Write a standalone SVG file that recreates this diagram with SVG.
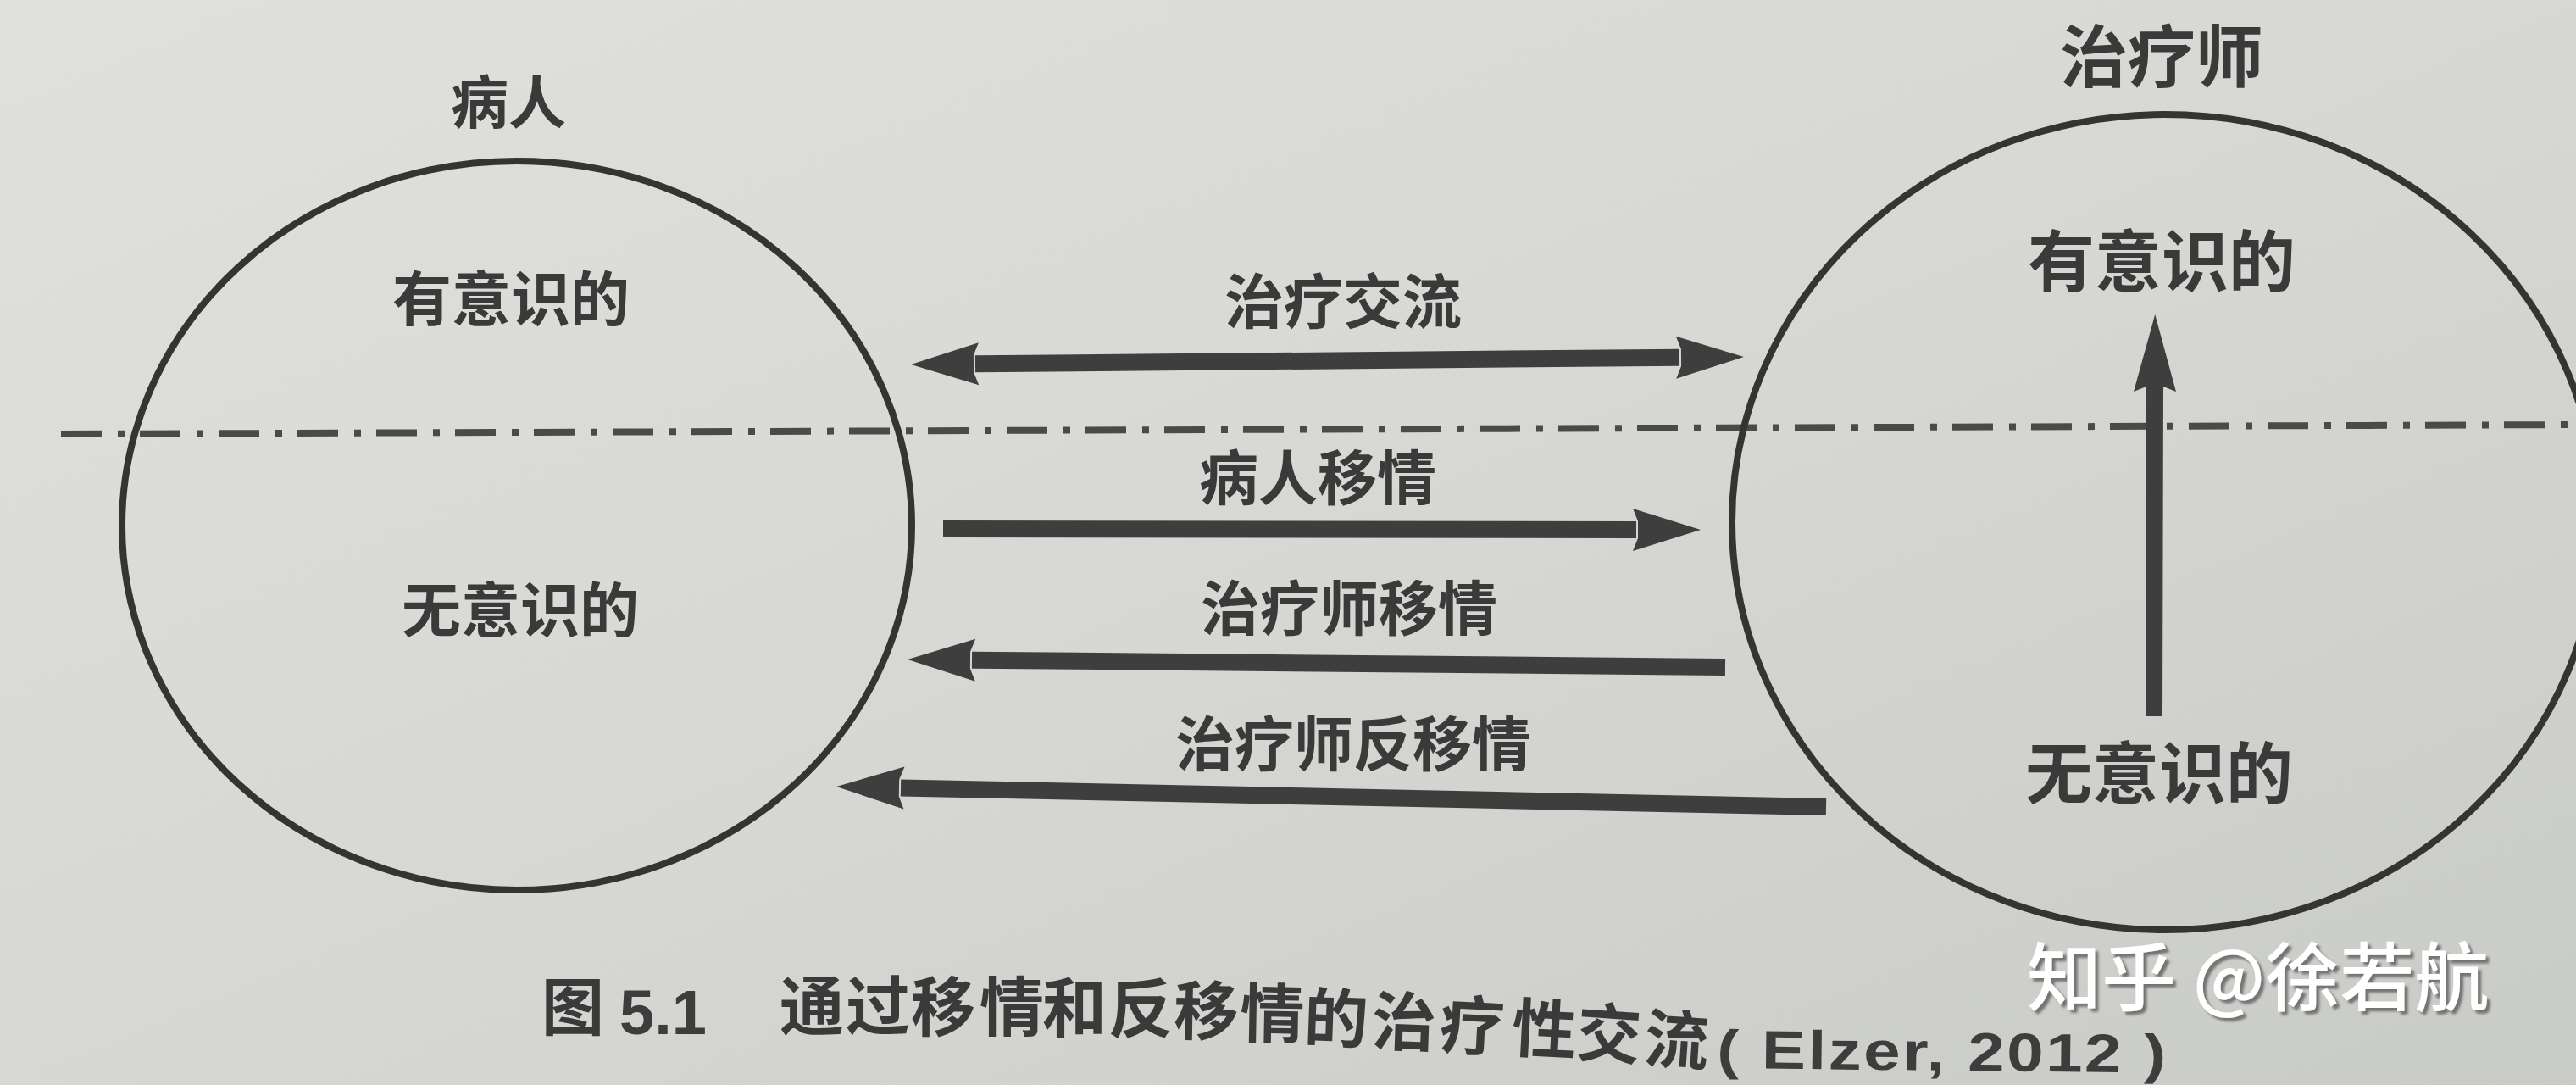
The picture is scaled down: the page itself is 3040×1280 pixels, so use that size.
<svg xmlns="http://www.w3.org/2000/svg" width="3040" height="1280" viewBox="0 0 3040 1280">
<style>
.t{font-family:"Noto Sans CJK SC","Noto Sans",sans-serif;font-weight:700;fill:#3a3a3a}
.l{font-family:"Liberation Sans",Arial,sans-serif;font-weight:700;fill:#3d3d3d}
.ell{fill:none;stroke:#343434;stroke-width:8}
.shaft{fill:none;stroke:#3e3e3e;stroke-width:20}
.dd{fill:none;stroke:#4a4a4a;stroke-width:8;stroke-dasharray:48 19 8 18}
.wm{font-family:"Noto Sans CJK SC",sans-serif;font-weight:500;fill:#fff}
</style>
<defs>
<linearGradient id="bg" x1="0" y1="0" x2="1" y2="1">
<stop offset="0" stop-color="#e0e1dd"/>
<stop offset="0.5" stop-color="#d7d8d4"/>
<stop offset="1" stop-color="#c9cbc7"/>
</linearGradient>
<marker id="head" markerUnits="userSpaceOnUse" markerWidth="92" markerHeight="54" viewBox="0 0 92 54" refX="13" refY="27" orient="auto-start-reverse">
<path d="M89,27 L9,2 L15,17 L15,37 L9,52 Z" fill="#3e3e3e"/>
</marker>
<marker id="headLong" markerUnits="userSpaceOnUse" markerWidth="102" markerHeight="54" viewBox="0 0 102 54" refX="15" refY="27" orient="auto">
<path d="M100,27 L9,2 L15,17 L15,37 L9,52 Z" fill="#3e3e3e"/>
</marker>
<filter id="sh" x="-5%" y="-20%" width="110%" height="140%">
<feDropShadow dx="4" dy="4" stdDeviation="1.5" flood-color="#6a6a6a" flood-opacity="0.9"/>
</filter>
</defs>
<rect width="3040" height="1280" fill="url(#bg)"/>

<g id="divider">
<line class="dd" x1="72" y1="512" x2="3040" y2="501"/>
</g>

<g id="patient">
<text class="t" x="600" y="146" font-size="68" text-anchor="middle">病人</text>
<ellipse class="ell" cx="610" cy="620" rx="466" ry="430"/>
<text class="t" x="603" y="379" font-size="70" text-anchor="middle">有意识的</text>
<text class="t" x="614" y="746" font-size="70" text-anchor="middle">无意识的</text>
</g>

<g id="therapist">
<text class="t" x="2551" y="96" font-size="80" text-anchor="middle">治疗师</text>
<ellipse class="ell" cx="2555" cy="616" rx="511" ry="481"/>
<text class="t" x="2551" y="338" font-size="79" text-anchor="middle">有意识的</text>
<text class="t" x="2548" y="942" font-size="79" text-anchor="middle">无意识的</text>
</g>

<g id="connectors">
<line class="shaft" x1="1151" y1="429.3" x2="1982" y2="421.7" marker-start="url(#head)" marker-end="url(#head)"/>
<line class="shaft" x1="1113" y1="624" x2="1931" y2="625" marker-end="url(#head)"/>
<line class="shaft" x1="2036" y1="787" x2="1147" y2="778.7" marker-end="url(#head)"/>
<line class="shaft" x1="2155" y1="952" x2="1063" y2="929.5" marker-end="url(#head)"/>
<line class="shaft" x1="2542" y1="845" x2="2543" y2="456" marker-end="url(#headLong)"/>
</g>

<g id="labels">
<text class="t" x="1585" y="382" font-size="70" text-anchor="middle">治疗交流</text>
<text class="t" x="1555" y="590" font-size="70" text-anchor="middle">病人移情</text>
<text class="t" x="1592" y="744" font-size="70" text-anchor="middle">治疗师移情</text>
<text class="t" x="1597" y="904" font-size="70" text-anchor="middle">治疗师反移情</text>
</g>

<g id="caption">
<text class="t" x="639" y="1215" font-size="74">图</text>
<text class="l" x="731" y="1220" font-size="74">5.1</text>
<text class="t" font-size="76" x="920 998 1075 1156 1230 1308 1385 1463 1538 1618 1698 1783 1859 1939" y="1215 1215 1216 1216 1217 1218 1220 1223 1228 1232 1236 1240 1245 1252" rotate="0 0 0 0 0 0 1 1 2 2 3 3 4 4">通过移情和反移情的治疗性交流</text>
<g transform="translate(2026,1260) rotate(0.6) scale(1,0.82)">
<text class="l" x="0" y="0" font-size="78" textLength="530" lengthAdjust="spacing">( Elzer, 2012 )</text>
</g>
</g>

<g id="watermark">
<text class="wm" x="2392" y="1185" font-size="88" filter="url(#sh)">知乎 @徐若航</text>
</g>
</svg>
